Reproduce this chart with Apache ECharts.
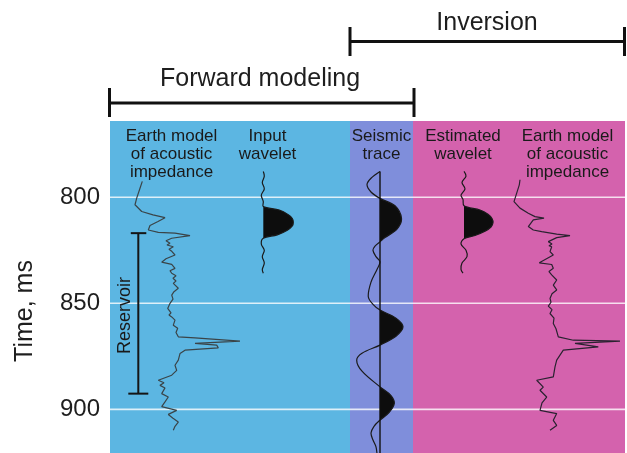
<!DOCTYPE html>
<html><head><meta charset="utf-8">
<script src="https://cdn.jsdelivr.net/npm/echarts@6/dist/echarts.min.js"></script>
<style>html,body{margin:0;padding:0;background:#fff}#c{width:627px;height:453px}</style>
</head><body><div id="c"></div>
<script>
// ---------- data ----------
const timeTicks = [800, 850, 900];
const timeRange = [764, 920.6];
const reservoirTimes = [816.9, 892.6];

// [amplitude, time ms]
const earthModelForward = [[2.3,792.5],[0,795.7],[-3.3,800.4],[-5,803.5],[1.7,806.7],[13,808.3],[25,809.6],[18,811.4],[10,813.3],[8.3,815.4],[18.3,816.5],[35,816.9],[50,818.1],[31.7,819.3],[26,820.5],[30,821.7],[27,822.5],[33.3,823.3],[29,824.5],[32,825.6],[30,826.4],[35,827.2],[26,829],[21.7,830.6],[31.7,831.6],[35,833.5],[30,834.6],[31.7,835.8],[36,837],[33,838.2],[36,839.5],[33.3,840.6],[38.3,842.9],[34,844.5],[31.7,846.1],[33,848],[30,850.0],[27.7,852.4],[31,854.5],[29,855.5],[31.7,856.4],[35,857.9],[33.3,860.3],[37.7,861.8],[36,863.8],[38.3,865.8],[55,866.3],[100,867.8],[55,868.9],[76.7,869.7],[78.3,871.0],[45,872.1],[40,873.7],[38.3,876.8],[35,879.2],[36.7,881.6],[31.7,883.9],[18.3,886.3],[24,887.5],[20,888.7],[25,889.9],[21.7,892.6],[28.3,894.2],[25,896.5],[21.7,898.7],[36.7,900.5],[28.3,902.4],[33,904.2],[38.3,906.0],[35,908],[33.3,909.9]];
const earthModelInverted = [[0,791.7],[-0.7,794.1],[-3.3,798.0],[-6,802.0],[0,805.1],[8.3,807.5],[15,809.1],[24,809.8],[13.3,810.6],[8.3,813.8],[13.3,815.4],[21.7,816.2],[36.7,817.4],[50,818.1],[36.7,819.0],[28.3,820.9],[32,822],[29,822.8],[31.7,823.3],[30,825.6],[33.3,827.2],[19.3,830.9],[31.7,831.7],[33.3,833.5],[29,835],[31.7,836.6],[36.7,839.0],[33.3,841.4],[36.7,843.7],[32,845.5],[30,847.7],[31,849.5],[28.3,851.3],[32,853],[30,854.8],[34,857],[33.3,859.5],[36,862],[38.3,865.8],[53.3,867.4],[100,867.8],[55,868.9],[78.3,870.5],[43.3,872.1],[36.7,876.8],[35,880],[33.3,884.7],[16.7,886.3],[23.3,889.5],[20,891.0],[26.7,894.2],[22,897],[20,900.5],[36.7,902.0],[33.3,905.2],[36.7,907.6],[30,909.9]];
const inputWavelet = [[0,787.8],[1,790],[-1,793],[1,796],[-2,799],[0,802],[0,804.3],[16,806],[25,808.2],[29,810],[30,811.7],[29,813.5],[24,815.5],[14,817.7],[0,819.3],[-2,822],[1,825],[-1,828],[1,831],[-1,834],[0,835.8]];
const estimatedWavelet = [[0,787.8],[2,790],[-2,793],[1,796],[-3,799],[-1,801],[0,804],[16,806],[24,808],[28,810],[29,812],[27,814],[21,816],[11,818],[0,819.5],[-3,822],[2,825],[3,828],[-2,831],[-3,834],[-1,835.8]];
const seismicTrace = [[0,787.8],[-9,791],[-13,794],[-9,797.5],[0,800.5],[15,804],[21.5,810],[17,815],[5,819],[0,821],[-5,823],[-7,825],[-4,828],[0,830.4],[-3,834],[-9,840],[-11.7,846.9],[-7,850.5],[0,853.2],[16,857],[23,861.1],[16,865.5],[0,869.7],[-18,873.5],[-23.3,876.8],[-18,882],[0,889.4],[11,893.5],[14.3,897.2],[9,901.5],[0,905.1],[-6,908],[-9,911.2],[-7,914.5],[-4,917.7],[-3,921]];

const regions = [
  {name:'Forward', from:0, to:240, color:'#5cb6e2'},
  {name:'Trace', from:240, to:303, color:'#7f8edb'},
  {name:'Inversion', from:303, to:515, color:'#d462ad'}
];

// ---------- layout ----------
const FONT = '"Liberation Sans", Arial, Helvetica, sans-serif';
const base = {modelF:30, inWav:153.3, seis:270, estWav:354, modelI:410};
const shift = (arr, b) => arr.map(p => [b + p[0], p[1]]);

function smoothSegs(pts, s) {
  const n = pts.length, cin = [], cout = [];
  for (let i = 0; i < n; i++) {
    const p = pts[i];
    if (i === 0 || i === n - 1) { cin[i] = p; cout[i] = p; continue; }
    const prev = pts[i-1], next = pts[i+1];
    const vx = next[0]-prev[0], vy = next[1]-prev[1];
    const d0 = Math.hypot(p[0]-prev[0], p[1]-prev[1]);
    const d1 = Math.hypot(next[0]-p[0], next[1]-p[1]);
    const r = d1 / ((d0 + d1) || 1);
    cout[i] = [p[0] + vx*s*r, p[1] + vy*s*r];
    cin[i] = [p[0] - vx*s*(1-r), p[1] - vy*s*(1-r)];
  }
  return {cin, cout};
}
function curvePath(pts, cs, a, b) {
  let d = 'M' + pts[a][0] + ',' + pts[a][1];
  for (let i = a; i < b; i++) {
    d += 'C' + cs.cout[i][0] + ',' + cs.cout[i][1] + ' ' + cs.cin[i+1][0] + ',' + cs.cin[i+1][1] + ' ' + pts[i+1][0] + ',' + pts[i+1][1];
  }
  return d;
}
const smoothTraces = [
  {data: inputWavelet, b: base.inWav, axisLine:false},
  {data: seismicTrace, b: base.seis, axisLine:true},
  {data: estimatedWavelet, b: base.estWav, axisLine:false}
];

const chart = echarts.init(document.getElementById('c'));
chart.setOption({
  animation: false,
  grid: {left:110, right:2, top:121, bottom:0},
  xAxis: {type:'value', min:0, max:515, show:false},
  yAxis: {
    type:'value', inverse:true, min:timeRange[0], max:timeRange[1],
    axisLine:{show:false}, axisTick:{show:false}, splitLine:{show:false},
    axisLabel:{customValues: timeTicks, formatter: v => String(v), fontSize:24, color:'#1e1e1e', margin:10, fontFamily:FONT}
  },
  graphic: [
    {type:'text', x:25, y:311, rotation:Math.PI/2, style:{text:'Time, ms', font:'25px ' + FONT, fill:'#1e1e1e', align:'center', verticalAlign:'middle'}},
    {type:'text', x:260, y:79, style:{text:'Forward modeling', font:'25px ' + FONT, fill:'#1e1e1e', align:'center', verticalAlign:'middle'}},
    {type:'text', x:487, y:23, style:{text:'Inversion', font:'25px ' + FONT, fill:'#1e1e1e', align:'center', verticalAlign:'middle'}},
    {type:'polyline', shape:{points:[[109.5,88],[109.5,117]]}, style:{stroke:'#111', lineWidth:3}},
    {type:'polyline', shape:{points:[[109.5,103],[414,103]]}, style:{stroke:'#111', lineWidth:3}},
    {type:'polyline', shape:{points:[[414,88],[414,117]]}, style:{stroke:'#111', lineWidth:3}},
    {type:'polyline', shape:{points:[[350,27],[350,56]]}, style:{stroke:'#111', lineWidth:3}},
    {type:'polyline', shape:{points:[[350,41.5],[624.5,41.5]]}, style:{stroke:'#111', lineWidth:3}},
    {type:'polyline', shape:{points:[[624.5,27],[624.5,56]]}, style:{stroke:'#111', lineWidth:3}},
    {type:'text', x:171.5, y:127.5, style:{text:'Earth model\nof acoustic\nimpedance', font:'17px ' + FONT, lineHeight:18, fill:'#1a1a1a', align:'center', verticalAlign:'top'}, z:10},
    {type:'text', x:267.5, y:127.5, style:{text:'Input\nwavelet', font:'17px ' + FONT, lineHeight:18, fill:'#1a1a1a', align:'center', verticalAlign:'top'}, z:10},
    {type:'text', x:381.5, y:127.5, style:{text:'Seismic\ntrace', font:'17px ' + FONT, lineHeight:18, fill:'#1a1a1a', align:'center', verticalAlign:'top'}, z:10},
    {type:'text', x:463, y:127.5, style:{text:'Estimated\nwavelet', font:'17px ' + FONT, lineHeight:18, fill:'#1a1a1a', align:'center', verticalAlign:'top'}, z:10},
    {type:'text', x:567.5, y:127.5, style:{text:'Earth model\nof acoustic\nimpedance', font:'17px ' + FONT, lineHeight:18, fill:'#1a1a1a', align:'center', verticalAlign:'top'}, z:10}
  ],
  series: [
    { // background bands + white time lines
      type:'custom', silent:true, z:1, data:[[0, 800]],
      renderItem: (params, api) => {
        const ch = [];
        regions.forEach(r => {
          const p0 = api.coord([r.from, timeRange[0]]), p1 = api.coord([r.to, timeRange[1]]);
          ch.push({type:'rect', shape:{x:p0[0], y:p0[1], width:p1[0]-p0[0], height:p1[1]-p0[1]}, style:{fill:r.color}});
        });
        timeTicks.forEach(t => {
          const a = api.coord([0, t]), b = api.coord([515, t]);
          ch.push({type:'line', shape:{x1:a[0], y1:a[1], x2:b[0], y2:b[1]}, style:{stroke:'rgba(255,255,255,0.8)', lineWidth:1.6}});
        });
        return {type:'group', children:ch};
      }
    },
    { // reservoir bracket
      type:'custom', silent:true, z:3, data:[[0, 800]],
      renderItem: (params, api) => {
        const x = 28.3;
        const top = api.coord([x, reservoirTimes[0]]), bot = api.coord([x, reservoirTimes[1]]);
        const lbl = api.coord([15, (reservoirTimes[0] + reservoirTimes[1]) / 2 + 1]);
        return {type:'group', children:[
          {type:'line', shape:{x1:top[0], y1:top[1], x2:bot[0], y2:bot[1]}, style:{stroke:'#151515', lineWidth:2}},
          {type:'line', shape:{x1:top[0]-7.5, y1:top[1], x2:top[0]+8, y2:top[1]}, style:{stroke:'#151515', lineWidth:2}},
          {type:'line', shape:{x1:bot[0]-10, y1:bot[1], x2:bot[0]+10, y2:bot[1]}, style:{stroke:'#151515', lineWidth:2}},
          {type:'text', x:lbl[0], y:lbl[1], rotation:Math.PI/2, style:{text:'Reservoir', font:'18px ' + FONT, fill:'#1a1a1a', align:'center', verticalAlign:'middle'}}
        ]};
      }
    },
    {type:'line', name:'Earth model (forward)', z:4, symbol:'none', smooth:false, data: shift(earthModelForward, base.modelF), lineStyle:{color:'#3a4448', width:1.2}},
    {type:'line', name:'Earth model (inverted)', z:4, symbol:'none', smooth:false, data: shift(earthModelInverted, base.modelI), lineStyle:{color:'#2a2230', width:1.2}},
    { // wavelets and seismic trace with filled positive lobes
      type:'custom', silent:true, z:5, data: smoothTraces.map((t, i) => [i, 800]),
      renderItem: (params, api) => {
        const tr = smoothTraces[params.dataIndex];
        const pts = tr.data.map(p => api.coord([tr.b + p[0], p[1]]));
        const cs = smoothSegs(pts, 0.33);
        const ch = [];
        let i = 0;
        while (i < tr.data.length - 1) {
          if (tr.data[i][0] === 0 && tr.data[i+1][0] > 0) {
            let j = i + 1, mx = 0;
            while (j < tr.data.length && tr.data[j][0] > 0) { mx = Math.max(mx, tr.data[j][0]); j++; }
            if (j < tr.data.length && mx > 5) {
              const d = curvePath(pts, cs, i, j) + 'L' + pts[i][0] + ',' + pts[i][1] + 'Z';
              ch.push({type:'path', shape:{pathData:d}, style:{fill:'#0d0d0d', stroke:null}});
            }
            i = j;
          } else i++;
        }
        ch.push({type:'path', shape:{pathData: curvePath(pts, cs, 0, pts.length - 1)}, style:{fill:null, stroke:'#1a1a1a', lineWidth:1.2}});
        if (tr.axisLine) {
          const a = api.coord([tr.b, tr.data[0][1]]), b = api.coord([tr.b, timeRange[1]]);
          ch.push({type:'line', shape:{x1:a[0], y1:a[1], x2:b[0], y2:b[1]}, style:{stroke:'#111', lineWidth:1.4}});
        }
        return {type:'group', children:ch};
      }
    }
  ]
});
</script></body></html>
